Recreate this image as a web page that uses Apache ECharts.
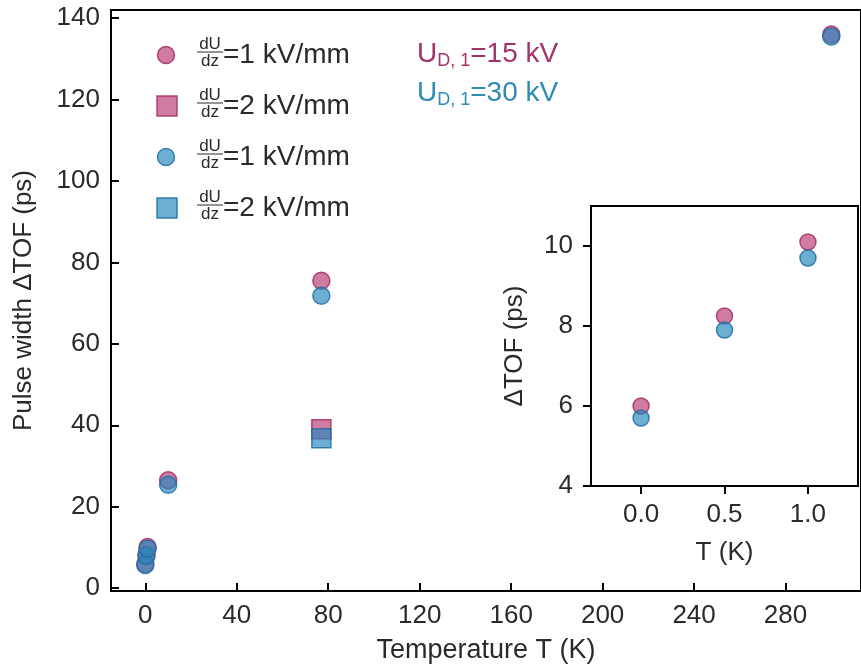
<!DOCTYPE html>
<html><head><meta charset="utf-8">
<script src="https://cdn.jsdelivr.net/npm/echarts@6/dist/echarts.min.js"></script>
<style>html,body{margin:0;padding:0;background:#fff}#c{width:861px;height:671px}</style>
</head><body><div id="c"></div>
<script>
// ---- data ----
var pinkCircles = [[0, 6.0], [0.5, 8.25], [1, 10.1], [10, 26.5], [77, 75.5], [300, 136.0]]; // U=15 kV, 1 kV/mm
var pinkSquares = [[77, 39.0]];                                                             // U=15 kV, 2 kV/mm
var blueCircles = [[0, 5.7], [0.5, 7.9], [1, 9.7], [10, 25.4], [77, 71.8], [300, 135.5]];  // U=30 kV, 1 kV/mm
var blueSquares = [[77, 36.8]];                                                             // U=30 kV, 2 kV/mm
var mainXTicks = [0, 40, 80, 120, 160, 200, 240, 280];
var mainYTicks = [0, 20, 40, 60, 80, 100, 120, 140];
var insetXTicks = [0, 0.5, 1.0];
var insetYTicks = [4, 6, 8, 10];
var legendLabels = ['=1 kV/mm', '=2 kV/mm', '=1 kV/mm', '=2 kV/mm'];

var FONT = '"Liberation Sans", Arial, Helvetica, sans-serif';
var TXT = '#2a2a2a';
var pinkFill = 'rgba(185,60,115,0.68)', pinkEdge = 'rgba(165,45,100,0.85)';
var blueFill = 'rgba(40,135,190,0.68)', blueEdge = 'rgba(30,110,165,0.85)';

function lowT(arr) { return arr.filter(function (d) { return d[0] <= 1; }); }

function sc(name, data, sym, size, fill, edge, xi, yi) {
  return {
    type: 'scatter', name: name, data: data, symbol: sym, symbolSize: size,
    xAxisIndex: xi, yAxisIndex: yi,
    itemStyle: { color: fill, borderColor: edge, borderWidth: 1.5, opacity: 1 },
    emphasis: { disabled: true }, z: 3
  };
}

var axisLine = { show: true, onZero: false, lineStyle: { color: '#000', width: 2 } };

// legend graphics
var legendGraphics = [];
var legY = [55, 106, 157, 208];
var legSym = ['circle', 'rect', 'circle', 'rect'];
var legFill = [pinkFill, pinkFill, blueFill, blueFill];
var legEdge = [pinkEdge, pinkEdge, blueEdge, blueEdge];
for (var i = 0; i < 4; i++) {
  var y = legY[i];
  if (legSym[i] === 'circle') {
    legendGraphics.push({ type: 'circle', shape: { cx: 166, cy: y, r: 8.5 }, style: { fill: legFill[i], stroke: legEdge[i], lineWidth: 1.5 } });
  } else {
    legendGraphics.push({ type: 'rect', shape: { x: 157, y: y - 10, width: 20, height: 20 }, style: { fill: legFill[i], stroke: legEdge[i], lineWidth: 1.5 } });
  }
  legendGraphics.push({ type: 'text', x: 210, y: y - 11, style: { text: 'dU', font: '17px ' + FONT, fill: TXT, align: 'center', verticalAlign: 'middle' } });
  legendGraphics.push({ type: 'line', shape: { x1: 197, y1: y - 3, x2: 223, y2: y - 3 }, style: { stroke: TXT, lineWidth: 1 } });
  legendGraphics.push({ type: 'text', x: 210, y: y + 6, style: { text: 'dz', font: '17px ' + FONT, fill: TXT, align: 'center', verticalAlign: 'middle' } });
  legendGraphics.push({ type: 'text', x: 223, y: y, style: { text: legendLabels[i], font: '28px ' + FONT, fill: TXT, align: 'left', verticalAlign: 'middle' } });
}
legendGraphics.push({
  type: 'text', x: 417, y: 54,
  style: {
    text: '{a|U}{s|D, 1}{a|=15 kV}', fill: '#a3336b', verticalAlign: 'middle',
    rich: { a: { font: '28px ' + FONT, fill: '#a3336b', lineHeight: 32 }, s: { font: '18px ' + FONT, fill: '#a3336b', verticalAlign: 'bottom', lineHeight: 24 } }
  }
});
legendGraphics.push({
  type: 'text', x: 417, y: 93,
  style: {
    text: '{a|U}{s|D, 1}{a|=30 kV}', fill: '#2f8ab5', verticalAlign: 'middle',
    rich: { a: { font: '28px ' + FONT, fill: '#2f8ab5', lineHeight: 32 }, s: { font: '18px ' + FONT, fill: '#2f8ab5', verticalAlign: 'bottom', lineHeight: 24 } }
  }
});

var chart = echarts.init(document.getElementById('c'), null, { renderer: 'canvas' });
chart.setOption({
  animation: false,
  backgroundColor: '#fff',
  textStyle: { fontFamily: FONT },
  grid: [
    { left: 111, top: 10, right: -3, bottom: 80, show: true, borderColor: '#000', borderWidth: 2, backgroundColor: 'transparent' },
    { left: 591, top: 206, right: 3, bottom: 185, show: true, borderColor: '#000', borderWidth: 2, backgroundColor: '#fff', z: 5 }
  ],
  xAxis: [
    {
      type: 'value', gridIndex: 0, min: -15, max: 313,
      name: 'Temperature T (K)', nameLocation: 'middle', nameGap: 46,
      nameTextStyle: { fontSize: 27, color: TXT, fontFamily: FONT },
      axisLine: axisLine, splitLine: { show: false },
      axisTick: { show: true, inside: true, length: 8, customValues: mainXTicks, lineStyle: { color: '#000', width: 2 } },
      axisLabel: { customValues: mainXTicks, fontSize: 26, color: TXT, margin: 12, fontFamily: FONT }
    },
    {
      type: 'value', gridIndex: 1, min: -0.3, max: 1.3, z: 6,
      name: 'T (K)', nameLocation: 'middle', nameGap: 54,
      nameTextStyle: { fontSize: 26, color: TXT, fontFamily: FONT },
      axisLine: axisLine, splitLine: { show: false },
      axisTick: { show: true, inside: false, length: 8, customValues: insetXTicks, lineStyle: { color: '#000', width: 2 } },
      axisLabel: { customValues: insetXTicks, fontSize: 26, color: TXT, margin: 16, fontFamily: FONT, formatter: function (v) { return v.toFixed(1); } }
    }
  ],
  yAxis: [
    {
      type: 'value', gridIndex: 0, min: -0.7, max: 142,
      name: 'Pulse width ΔTOF (ps)', nameLocation: 'middle', nameGap: 74,
      nameTextStyle: { fontSize: 26, color: TXT, fontFamily: FONT },
      axisLine: axisLine, splitLine: { show: false },
      axisTick: { show: true, inside: true, length: 8, customValues: mainYTicks, lineStyle: { color: '#000', width: 2 } },
      axisLabel: { customValues: mainYTicks, fontSize: 26, color: TXT, margin: 11, fontFamily: FONT }
    },
    {
      type: 'value', gridIndex: 1, min: 4, max: 11, z: 6,
      name: 'ΔTOF (ps)', nameLocation: 'middle', nameGap: 63,
      nameTextStyle: { fontSize: 26, color: TXT, fontFamily: FONT },
      axisLine: axisLine, splitLine: { show: false },
      axisTick: { show: true, inside: false, length: 8, customValues: insetYTicks, lineStyle: { color: '#000', width: 2 } },
      axisLabel: { customValues: insetYTicks, fontSize: 26, color: TXT, margin: 18, fontFamily: FONT }
    }
  ],
  series: [
    sc('pc', pinkCircles, 'circle', 17, pinkFill, pinkEdge, 0, 0),
    sc('ps', pinkSquares, 'rect', 19, pinkFill, pinkEdge, 0, 0),
    sc('bc', blueCircles, 'circle', 17, blueFill, blueEdge, 0, 0),
    sc('bs', blueSquares, 'rect', 19, blueFill, blueEdge, 0, 0),
    Object.assign(sc('ipc', lowT(pinkCircles), 'circle', 16, pinkFill, pinkEdge, 1, 1), { z: 7 }),
    Object.assign(sc('ibc', lowT(blueCircles), 'circle', 16, blueFill, blueEdge, 1, 1), { z: 7 })
  ],
  graphic: legendGraphics
});
</script>
</body></html>
